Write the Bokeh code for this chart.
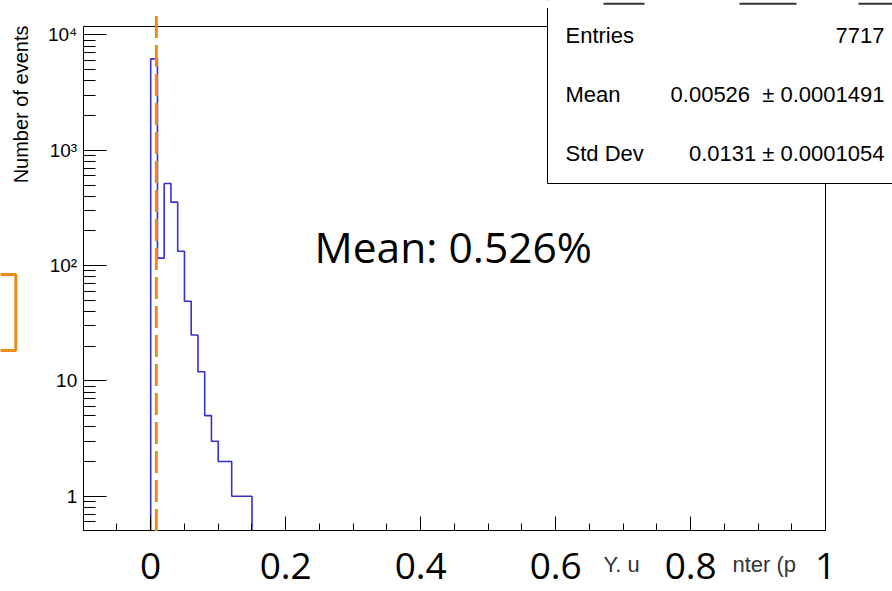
import math
from bokeh.plotting import figure
from bokeh.models import (FixedTicker, LogAxis, LinearAxis, Label, BoxAnnotation,
                          Arrow, Range1d)
from bokeh.embed import file_html
from bokeh.resources import INLINE

# ---------------- data ----------------
bin_edges = [0.00, 0.01, 0.02, 0.03, 0.04, 0.05, 0.06, 0.07, 0.08,
             0.09, 0.10, 0.11, 0.12, 0.13, 0.14, 0.15]
counts = [6213, 116, 515, 355, 133, 49, 25, 12, 5, 3, 2, 2, 1, 1, 1]
mean_marker_x = 0.0084

x_lo, x_hi = -0.1, 1.0
y_lo, y_hi = 0.5, 11850

x_ticks = [0, 0.2, 0.4, 0.6, 0.8, 1.0]
x_tick_labels = ["0", "0.2", "0.4", "0.6", "0.8", "1"]
x_minor = [-0.05, 0.05, 0.1, 0.15, 0.25, 0.3, 0.35, 0.45, 0.5, 0.55,
           0.65, 0.7, 0.75, 0.85, 0.9, 0.95]
y_ticks = [1, 10, 100, 1000, 10000]
y_tick_labels = ["1", "10", "10\u00b2", "10\u00b3", "10\u2074"]

stat_names = ["Entries", "Mean", "Std Dev"]
stat_values = ["7717", "0.00526\u00a0 \u00b1 0.0001491", "0.0131 \u00b1 0.0001054"]

mean_text = "Mean: 0.526%"
y_title = "Number of events"
x_title_pieces = ["Y. u", "nter (p"]

BLUE = "#3333CC"
ORANGE = "#EC8B1C"

# ---------------- layout (canvas pixels) ----------------
W, H = 892, 591
FRAME_L, FRAME_R, FRAME_T, FRAME_B = 82.7, 825.2, 26.0, 530.4

# the plotting frame covers the whole canvas; the ROOT-like frame is drawn
# with axes at fixed locations
x_per_px = (x_hi - x_lo) / (FRAME_R - FRAME_L)
ly_per_px = (math.log10(y_hi) - math.log10(y_lo)) / (FRAME_B - FRAME_T)
xr = Range1d(x_lo - FRAME_L * x_per_px, x_hi + (W - FRAME_R) * x_per_px)
yr = Range1d(10 ** (math.log10(y_lo) - (H - FRAME_B) * ly_per_px),
             10 ** (math.log10(y_hi) + FRAME_T * ly_per_px))


def sx(px):
    return px


def sy(py):
    return H - py


p = figure(width=W, height=H, x_range=xr, y_range=yr, y_axis_type="log",
           output_backend="svg", toolbar_location=None, min_border=0)
p.outline_line_color = None
p.grid.visible = False
p.background_fill_color = "white"
p.border_fill_color = "white"

# x axis
xa = p.xaxis[0]
xa.fixed_location = y_lo
xa.bounds = (x_lo, x_hi)
xa.ticker = FixedTicker(ticks=x_ticks, minor_ticks=x_minor)
xa.major_label_overrides = dict(zip(x_ticks, x_tick_labels))
xa.major_tick_in = 14
xa.major_tick_out = 0
xa.minor_tick_in = 7
xa.minor_tick_out = 0
xa.axis_line_color = "black"
xa.major_tick_line_color = "black"
xa.minor_tick_line_color = "black"
xa.major_label_text_font = "Open Sans"
xa.major_label_text_font_size = "37px"
xa.major_label_text_color = "black"
xa.major_label_standoff = 22

# y axis
y_minor = [m * d for d in [0.1] + y_ticks[:-1] for m in range(2, 10)
           if y_lo <= m * d <= y_hi]
ya = p.yaxis[0]
ya.fixed_location = x_lo
ya.bounds = (y_lo, y_hi)
ya.ticker = FixedTicker(ticks=y_ticks, minor_ticks=y_minor)
ya.major_label_overrides = dict(zip(y_ticks, y_tick_labels))
ya.major_tick_in = 23
ya.major_tick_out = 0
ya.minor_tick_in = 12
ya.minor_tick_out = 0
ya.axis_line_color = "black"
ya.major_tick_line_color = "black"
ya.minor_tick_line_color = "black"
ya.major_label_text_font = "Liberation Sans"
ya.major_label_text_font_size = "19px"
ya.major_label_text_color = "black"
ya.major_label_standoff = 6

# frame top / right as bare axes
top = LinearAxis(ticker=FixedTicker(ticks=[]), fixed_location=y_hi, bounds=(x_lo, x_hi),
                 major_tick_in=0, major_tick_out=0, minor_tick_in=0, minor_tick_out=0,
                 major_label_text_font_size="0px", axis_line_color="black")
p.add_layout(top, "above")
right = LogAxis(ticker=FixedTicker(ticks=[]), fixed_location=x_hi, bounds=(y_lo, y_hi),
                major_tick_in=0, major_tick_out=0, minor_tick_in=0, minor_tick_out=0,
                major_label_text_font_size="0px", axis_line_color="black")
p.add_layout(right, "right")

# histogram outline
xs = [bin_edges[0]]
ys = [y_lo]
for i, c in enumerate(counts):
    xs += [bin_edges[i], bin_edges[i + 1]]
    ys += [c, c]
xs.append(bin_edges[-1])
ys.append(y_lo)
p.line(xs, ys, line_color=BLUE, line_width=1.6)

# dashed mean marker (extends a bit above the frame)
p.add_layout(Arrow(end=None, x_start=mean_marker_x, y_start=y_lo,
                   x_end=mean_marker_x, y_end=15400,
                   line_color=ORANGE, line_width=3, line_dash="22 7"))

# big "Mean" text
p.add_layout(Label(x=sx(314), y=sy(246), x_units="screen", y_units="screen",
                   text=mean_text, text_font="Open Sans", text_font_size="42.5px",
                   text_color="black", text_baseline="alphabetic"))

# y title
p.add_layout(Label(x=sx(20.5), y=sy(25), x_units="screen", y_units="screen",
                   text=y_title, angle=90, angle_units="deg",
                   text_align="right", text_baseline="middle",
                   text_font="Liberation Sans", text_font_size="20px",
                   text_color="black"))

# x title fragments
for txt, px in zip(x_title_pieces, [603, 732]):
    p.add_layout(Label(x=sx(px), y=sy(564), x_units="screen", y_units="screen",
                       text=txt, text_font="Liberation Sans", text_font_size="22px",
                       text_color="#333333", text_baseline="alphabetic"))

# stats box
box_kw = dict(left_units="screen", right_units="screen",
              top_units="screen", bottom_units="screen")
p.add_layout(BoxAnnotation(left=sx(547), right=sx(930), top=sy(-30), bottom=sy(183),
                           fill_color="white", fill_alpha=1.0,
                           line_color="black", line_width=1, line_alpha=1.0,
                           **box_kw))
p.add_layout(BoxAnnotation(left=sx(540), right=sx(930), top=sy(-30), bottom=sy(7.5),
                           fill_color="white", fill_alpha=1.0, line_color=None,
                           **box_kw))
for l, r in [(603, 644), (739, 796), (858, 930)]:
    p.add_layout(BoxAnnotation(left=sx(l), right=sx(r), top=sy(2.3), bottom=sy(4.3),
                               fill_color="#333333", fill_alpha=1.0, line_color=None,
                               **box_kw))
for i, (nm, val) in enumerate(zip(stat_names, stat_values)):
    base = 34.5 + 59.2 * i
    p.add_layout(Label(x=sx(565), y=sy(base), x_units="screen", y_units="screen",
                       text=nm, text_font="Liberation Sans", text_font_size="22px",
                       text_color="black", text_baseline="alphabetic"))
    p.add_layout(Label(x=sx(884), y=sy(base), x_units="screen", y_units="screen",
                       text=val, text_font="Liberation Sans", text_font_size="22px",
                       text_color="black", text_baseline="alphabetic",
                       text_align="right"))

# orange box at left edge
p.add_layout(BoxAnnotation(left=sx(-40), right=sx(15.3), top=sy(274), bottom=sy(350),
                           fill_alpha=0, line_color=ORANGE, line_width=3, line_alpha=1.0,
                           **box_kw))

open("out.html", "w").write(file_html(p, INLINE))
